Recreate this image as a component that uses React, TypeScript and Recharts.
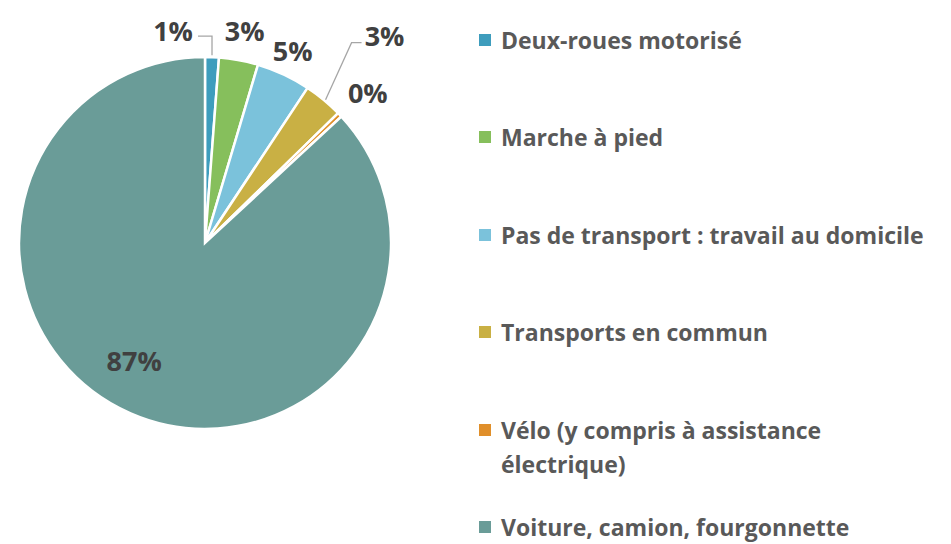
import { Cell, Pie, PieChart } from "recharts";

const modes = [
  "Deux-roues motorisé",
  "Marche à pied",
  "Pas de transport : travail au domicile",
  "Transports en commun",
  "Vélo (y compris à assistance électrique)",
  "Voiture, camion, fourgonnette",
];
const shares = [1.2, 3.4, 4.7, 3.4, 0.4, 86.9];
const colors = ["#3e9dbd", "#86bf5c", "#7bc2db", "#c9b044", "#e08f2a", "#6a9c98"];

// label nudges relative to the outer edge at mid-angle (last one: relative to 0.75 r)
const labelNudge: [number, number][] = [
  [-39, -27],
  [6, -30],
  [9, -24],
  [61, -64],
  [28, -22],
  [-15, -10],
];

const data = modes.map((name, i) => ({ name, value: shares[i], fill: colors[i] }));

const RAD = Math.PI / 180;
const labelFont = "'Open Sans', sans-serif";

function renderLabel(props: any) {
  const { cx, cy, midAngle, outerRadius, percent, index } = props;
  const text = `${Math.round(percent * 100)}%`;
  const cos = Math.cos(-midAngle * RAD);
  const sin = Math.sin(-midAngle * RAD);
  const r = index === 5 ? outerRadius * 0.75 : outerRadius;
  const ex = cx + r * cos;
  const ey = cy + r * sin;
  const x = ex + labelNudge[index][0];
  const y = ey + labelNudge[index][1];
  let line = null;
  if (index === 0) {
    line = (
      <polyline
        points={`${ex},${ey - 2} ${ex},${y + 6} ${x + 25},${y + 6}`}
        fill="none"
        stroke="#a6a6a6"
        strokeWidth={1.3}
      />
    );
  }
  if (index === 3) {
    line = (
      <polyline
        points={`${ex + 2},${ey} ${x - 33},${y + 7} ${x - 23},${y + 7}`}
        fill="none"
        stroke="#a6a6a6"
        strokeWidth={1.3}
      />
    );
  }
  return (
    <g key={`lbl-${index}`}>
      {line}
      <text
        x={x}
        y={y}
        textAnchor="middle"
        dominantBaseline="central"
        fill="#404040"
        fontFamily={labelFont}
        fontWeight={700}
        fontSize={27}
      >
        {text}
      </text>
    </g>
  );
}

function LegendBox() {
  return (
    <div
      style={{
        position: "absolute",
        left: 479,
        top: 23,
        fontFamily: labelFont,
        fontWeight: 700,
        fontSize: 23,
        color: "#595959",
      }}
    >
      {modes.map((m, i) => (
        <div key={m} style={{ display: "flex", alignItems: "flex-start", height: 97.4 }}>
          <div
            style={{
              width: 12,
              height: 12,
              background: colors[i],
              marginTop: 11,
              marginRight: 10,
              flexShrink: 0,
            }}
          />
          <div style={{ lineHeight: "34px", width: 448, whiteSpace: i === 4 ? "normal" : "nowrap" }}>{m}</div>
        </div>
      ))}
    </div>
  );
}

export default function App() {
  return (
    <div style={{ position: "absolute", left: 0, top: 0, width: 951, height: 544, background: "#fff", overflow: "hidden" }}>
      <PieChart width={951} height={544} margin={{ top: 0, right: 0, bottom: 0, left: 0 }}>
        <Pie
          data={data}
          dataKey="value"
          nameKey="name"
          cx={205}
          cy={243}
          outerRadius={186}
          startAngle={90}
          endAngle={-270}
          stroke="#ffffff"
          strokeWidth={2.5}
          label={renderLabel}
          labelLine={false}
          isAnimationActive={false}
        >
          {data.map((d) => (
            <Cell key={d.name} fill={d.fill} />
          ))}
        </Pie>
      </PieChart>
      <LegendBox />
    </div>
  );
}
